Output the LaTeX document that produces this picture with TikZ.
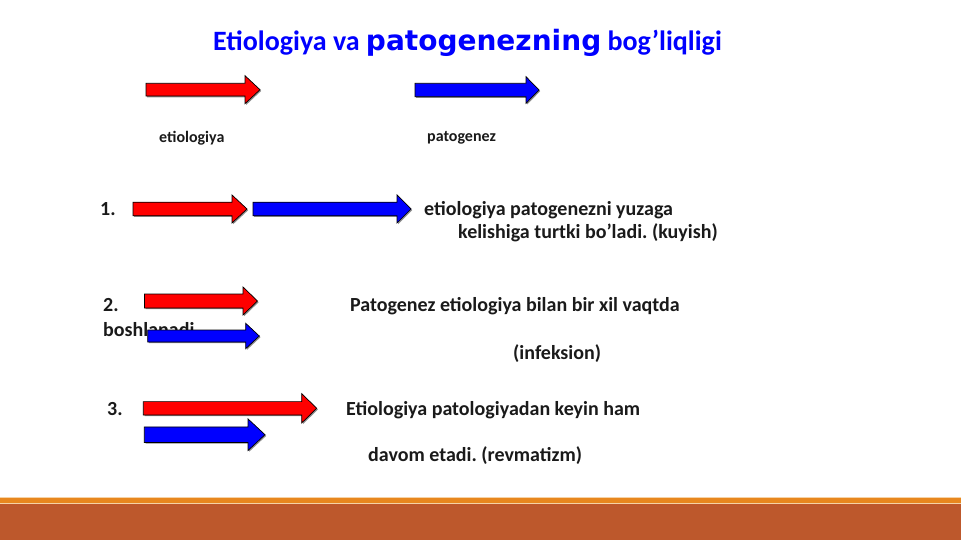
\documentclass[tikz,border=0pt]{standalone}
\usepackage{fontspec}
\setmainfont{Carlito}
\newfontfamily\verd{DejaVu Sans}
\frenchspacing
\definecolor{titleblue}{HTML}{0000FF}
\definecolor{arrred}{HTML}{FF0000}
\definecolor{arrblue}{HTML}{0000FF}
\definecolor{bandorange}{HTML}{E8871E}
\definecolor{bandpale}{HTML}{F6D3A6}
\definecolor{bandbrown}{HTML}{BD582C}
\definecolor{txt}{HTML}{1A1A1A}
\tikzset{
  arrowbox/.style={draw=black, line width=0.7pt, line join=miter},
  arrowshadow/.style={fill=black!45, draw=none},
  txtlabel/.style={anchor=base west, inner sep=0pt, text=txt, font=\bfseries\fontsize{20}{24}\selectfont},
  smalllabel/.style={anchor=base west, inner sep=0pt, text=txt, font=\bfseries\fontsize{16}{19}\selectfont},
}
% #1 colour, #2 x start, #3 x tip, #4 y centre, #5 shaft half height, #6 head half height, #7 head length
\newcommand{\blockarrow}[7]{%
  \fill[arrowshadow, shift={(1.2,1.2)}] (#2,#4-#5) -- (#3-#7,#4-#5) -- (#3-#7,#4-#6) -- (#3,#4) -- (#3-#7,#4+#6) -- (#3-#7,#4+#5) -- (#2,#4+#5) -- cycle;
  \filldraw[arrowbox, fill=#1] (#2,#4-#5) -- (#3-#7,#4-#5) -- (#3-#7,#4-#6) -- (#3,#4) -- (#3-#7,#4+#6) -- (#3-#7,#4+#5) -- (#2,#4+#5) -- cycle;
}
\begin{document}
\begin{tikzpicture}[x=1pt,y=-1pt]
\useasboundingbox (0,0) rectangle (961,540);
\fill[white] (0,0) rectangle (961,540);
% bottom bands
\fill[bandpale] (0,497) rectangle (961,498.3);
\fill[bandorange] (0,498.3) rectangle (961,503.3);
\fill[bandpale] (0,503.3) rectangle (961,504);
\fill[bandbrown] (0,504) rectangle (961,540);
% title
\node[anchor=base west, inner sep=0pt, text=titleblue, font=\bfseries\fontsize{28}{32}\selectfont] (title) at (213,51) {Etiologiya va {\verd\fontsize{28}{32}\selectfont patogenezning} bog’liqligi};
% legend labels
\node[smalllabel] (letio) at (159,143) {etiologiya};
\node[smalllabel] (lpato) at (427,142) {patogenez};
% row 1
\node[txtlabel] (n1) at (100,216) {1.};
\node[txtlabel] (t1a) at (424,216) {etiologiya patogenezni yuzaga};
\node[txtlabel] (t1b) at (458,239) {kelishiga turtki bo’ladi. (kuyish)};
% row 2
\node[txtlabel] (n2) at (103,311) {2.};
\node[txtlabel] (t2a) at (350,311) {Patogenez etiologiya bilan bir xil vaqtda};
\node[txtlabel] (t2w) at (103,336) {boshlanadi};
\node[txtlabel] (t2b) at (513,359) {(infeksion)};
% row 3
\node[txtlabel] (n3) at (107,415) {3.};
\node[txtlabel] (t3a) at (346,415) {Etiologiya patologiyadan keyin ham};
\node[txtlabel] (t3b) at (368,461.5) {davom etadi. (revmatizm)};
% arrows
\blockarrow{arrred}{146}{260}{89.7}{6.4}{14}{15}
\blockarrow{arrblue}{415}{539}{90}{6.7}{13.3}{13}
\blockarrow{arrred}{133}{247}{209}{6.8}{14}{15}
\blockarrow{arrblue}{253}{411}{209}{6.8}{14}{14}
\blockarrow{arrred}{144.5}{257.5}{301}{7}{14}{14.5}
\blockarrow{arrblue}{147.7}{259.3}{336}{6}{12.7}{13.6}
\blockarrow{arrred}{143.3}{316.7}{408.3}{6.7}{14.7}{15}
\blockarrow{arrblue}{144.3}{265}{434.7}{7.8}{15.8}{17}
\end{tikzpicture}
\end{document}
